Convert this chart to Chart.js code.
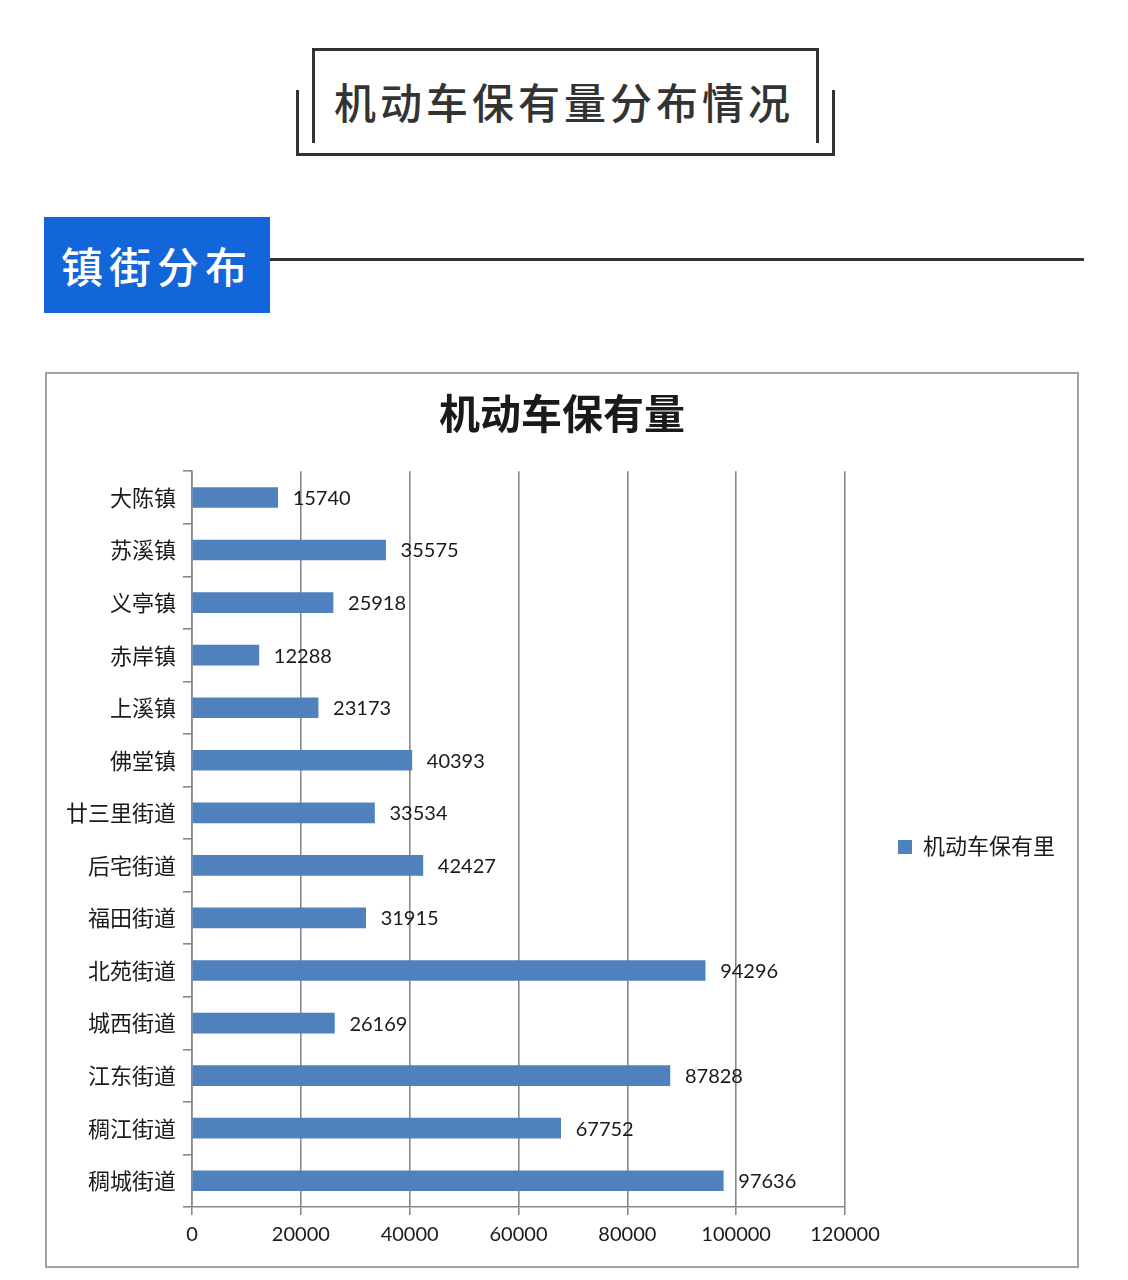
<!DOCTYPE html>
<html>
<head>
<meta charset="utf-8">
<script src="https://cdn.jsdelivr.net/npm/chart.js@4/dist/chart.umd.min.js"></script>
<style>
  html, body { margin: 0; padding: 0; background: #fff; }
  body { width: 1128px; height: 1280px; position: relative; overflow: hidden; font-family: "Noto Sans CJK SC", sans-serif; }
  .inner { position: absolute; left: 312px; top: 48px; width: 501px; height: 92px; border: 3px solid #333; border-bottom: none; }
  .outer { position: absolute; left: 296px; top: 90px; width: 533px; height: 63px; border: 3px solid #333; border-top: none; }
  .head { position: absolute; left: 296px; width: 536px; top: 73px; text-align: center; font-size: 42px; font-weight: 500; color: #333; letter-spacing: 4px; line-height: 56px; }
  .tag { position: absolute; left: 44px; top: 217px; width: 226px; height: 96px; background: #1366d9; color: #fff; font-size: 42px; line-height: 96px; text-align: center; letter-spacing: 6px; font-weight: 500; }
  .rule { position: absolute; left: 270px; top: 258px; width: 814px; height: 0; border-top: 3px solid #333; }
  .box { position: absolute; left: 45px; top: 372px; width: 1034px; height: 896px; }
  .frame { position: absolute; left: 45px; top: 372px; width: 1030px; height: 892px; border: 2px solid #a3a3a3; pointer-events: none; }
</style>
</head>
<body>
<div class="inner"></div>
<div class="outer"></div>
<div class="head">机动车保有量分布情况</div>
<div class="tag">镇街分布</div>
<div class="rule"></div>
<div class="box"><canvas id="c" width="1034" height="896"></canvas></div>
<div class="frame"></div>
<script>
const chartTitle = "机动车保有量";
const seriesName = "机动车保有里";
const categories = ["大陈镇","苏溪镇","义亭镇","赤岸镇","上溪镇","佛堂镇","廿三里街道","后宅街道","福田街道","北苑街道","城西街道","江东街道","稠江街道","稠城街道"];
const values = [15740,35575,25918,12288,23173,40393,33534,42427,31915,94296,26169,87828,67752,97636];
const xMin = 0, xMax = 120000, xStep = 20000;

const FONT = "Lato, 'Noto Sans CJK SC', sans-serif";
const PAD_RIGHT = 57;
const LEGEND_SHIFT_X = 43, LEGEND_SHIFT_Y = 27;
const TITLE_SHIFT_X = 28.5;

const valueLabels = {
  id: 'valueLabels',
  afterLayout(chart) {
    const lg = chart.legend;
    if (lg) {
      lg.left += LEGEND_SHIFT_X; lg.right += LEGEND_SHIFT_X;
      lg.top += LEGEND_SHIFT_Y; lg.bottom += LEGEND_SHIFT_Y;
    }
    const tb = chart.titleBlock;
    if (tb) { tb.left += TITLE_SHIFT_X; tb.right += TITLE_SHIFT_X; }
  },
  afterDatasetsDraw(chart) {
    const ctx = chart.ctx;
    const meta = chart.getDatasetMeta(0);
    ctx.save();
    ctx.font = "20px " + FONT;
    ctx.fillStyle = "#1a1a1a";
    ctx.textAlign = "left";
    ctx.textBaseline = "middle";
    meta.data.forEach((bar, i) => {
      ctx.fillText(String(values[i]), bar.x + 15, bar.y + 1);
    });
    ctx.restore();
  }
};

new Chart(document.getElementById('c'), {
  type: 'bar',
  data: {
    labels: categories,
    datasets: [{
      label: seriesName,
      data: values,
      backgroundColor: '#4f81bd',
      borderWidth: 0,
      barThickness: 20
    }]
  },
  options: {
    indexAxis: 'y',
    responsive: false,
    animation: false,
    devicePixelRatio: 1,
    layout: { padding: { left: 0, right: PAD_RIGHT, top: 0, bottom: 0 } },
    plugins: {
      title: {
        display: true,
        text: chartTitle,
        color: '#1a1a1a',
        font: { family: "'Noto Sans CJK SC', sans-serif", size: 41, weight: 'bold' },
        padding: { top: 17, bottom: 33 }
      },
      legend: {
        display: true,
        position: 'right',
        labels: {
          boxWidth: 14,
          boxHeight: 14,
          color: '#1a1a1a',
          font: { family: FONT, size: 22 },
          padding: 10
        }
      },
      tooltip: { enabled: false }
    },
    scales: {
      x: {
        min: xMin, max: xMax,
        ticks: { stepSize: xStep, color: '#1a1a1a', font: { family: FONT, size: 20 }, padding: 8, maxRotation: 0,
                 callback: (v) => String(v) },
        grid: { color: '#888888', lineWidth: 1.6, tickLength: 8, drawOnChartArea: true },
        border: { display: true, color: '#888888', width: 1.6 },
        afterFit(scale) { scale.height = 61; }
      },
      y: {
        ticks: { color: '#1a1a1a', font: { family: "'Noto Sans CJK SC', sans-serif", size: 22 }, padding: 7 },
        grid: { color: '#888888', lineWidth: 1.6, tickLength: 9, drawOnChartArea: false, offset: true },
        border: { display: true, color: '#888888', width: 1.6 },
        afterFit(scale) { scale.width = 147; }
      }
    }
  },
  plugins: [valueLabels]
});
</script>
</body>
</html>
